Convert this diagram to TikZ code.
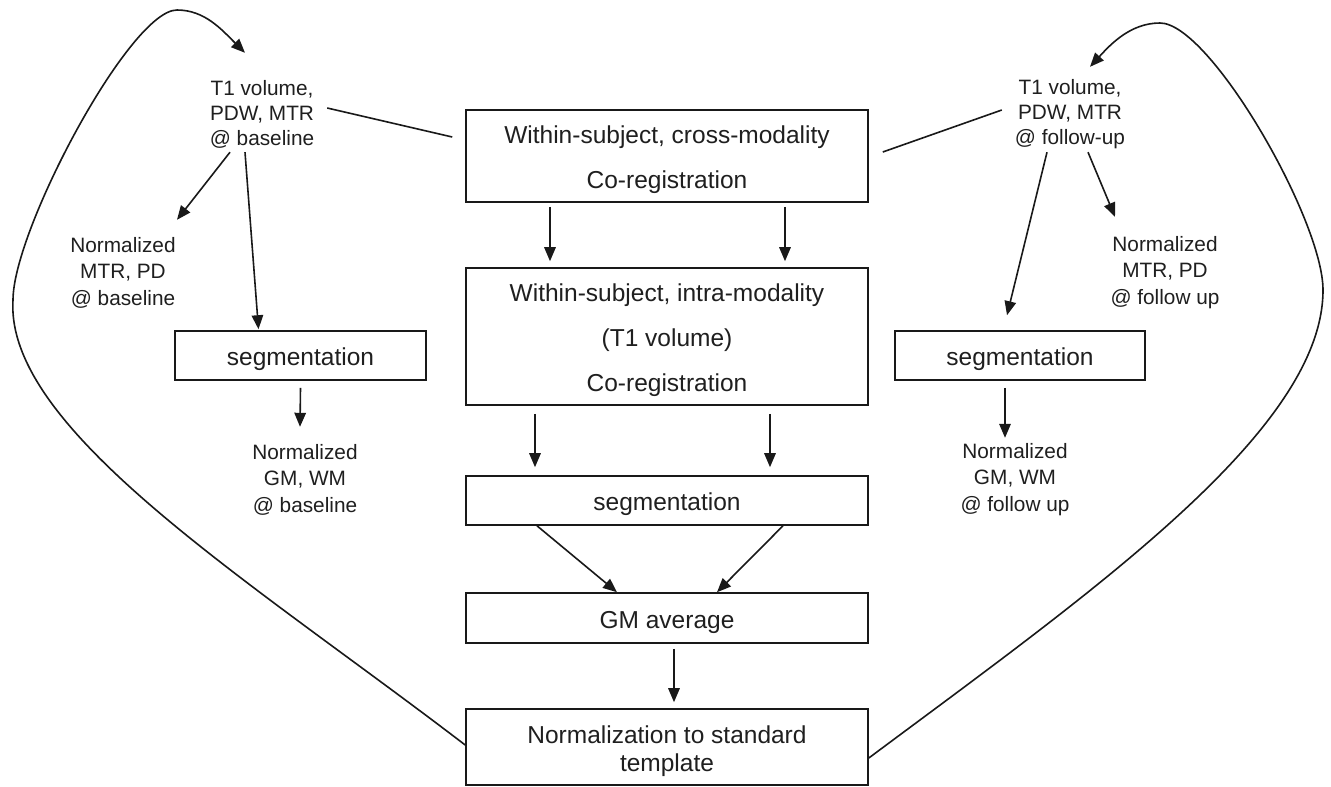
\documentclass[tikz,border=0pt]{standalone}
\usepackage{fontspec}
\setmainfont{Liberation Sans}
\usetikzlibrary{arrows.meta,calc}
\newcommand{\bstrut}{\rule{0pt}{26pt}}
\newcommand{\lstrut}{\rule{0pt}{20pt}}
\begin{document}
\begin{tikzpicture}[x=1pt,y=-1pt,
  line/.style={draw=black!90, line width=1.6pt},
  arr/.style={line, -{Triangle[length=14pt,width=11.5pt]}},
  box/.style={draw=black!90, line width=1.6pt, inner sep=0pt, align=center, text=black!88, font=\fontsize{24.5}{45}\selectfont},
  lbl/.style={inner sep=0pt, align=center, text=black!88, font=\fontsize{20.8}{26.5}\selectfont, minimum width=120pt, minimum height=78pt}
]
\useasboundingbox[fill=white] (0,0) rectangle (1331,787);

% central boxes
\node[box, minimum width=402pt, minimum height=92pt] (b1) at (667,156) {\bstrut Within-subject, cross-modality\\Co-registration};
\node[box, minimum width=402pt, minimum height=137pt] (b2) at (667,336.5) {\bstrut Within-subject, intra-modality\\(T1 volume)\\Co-registration};
\node[box, minimum width=402pt, minimum height=49pt] (b3) at (667,500.5) {\bstrut segmentation};
\node[box, minimum width=402pt, minimum height=50pt] (b4) at (667,618) {\bstrut GM average};
\node[box, minimum width=402pt, minimum height=76pt, font=\fontsize{24.5}{28}\selectfont] (b5) at (667,747) {\bstrut Normalization to standard\\template};

% side boxes
\node[box, minimum width=251pt, minimum height=49pt] (sl) at (300.5,355.5) {\bstrut segmentation};
\node[box, minimum width=250pt, minimum height=49pt] (sr) at (1020,355.5) {\bstrut segmentation};

% text labels
\node[lbl, font=\fontsize{20.8}{25}\selectfont] (tl) at (262,112) {\lstrut T1 volume,\\PDW, MTR\\@ baseline};
\node[lbl, font=\fontsize{20.8}{25}\selectfont] (tr) at (1070,112) {\lstrut T1 volume,\\PDW, MTR\\@ follow-up};
\node[lbl, minimum height=80pt] (nml) at (123,270) {\lstrut Normalized\\MTR, PD\\@ baseline};
\node[lbl, minimum height=80pt] (nmr) at (1165,270) {\lstrut Normalized\\MTR, PD\\@ follow up};
\node[lbl, minimum height=80pt] (ngl) at (305,477) {\lstrut Normalized\\GM, WM\\@ baseline};
\node[lbl, minimum height=80pt] (ngr) at (1015,477) {\lstrut Normalized\\GM, WM\\@ follow up};

% lines to cross-modality box
\draw[line] ($(tl.east)+(5,-4)$) -- ($(b1.west)+(-13,-19)$);
\draw[line] ($(b1.east)+(14,-4)$) -- ($(tr.west)+(-8,-2)$);

% left branch
\draw[arr] ($(tl.south)+(-32,1)$) -- ($(nml.north)+(54,-10)$);
\draw[arr] ($(tl.south)+(-17,1)$) -- ($(sl.north)+(-42,-1)$);
\draw[arr] ($(sl.south)+(0,7)$) -- ($(ngl.north)+(-5,-10)$);

% right branch
\draw[arr] ($(tr.south)+(18,1)$) -- ($(nmr.north)+(-50,-13)$);
\draw[arr] ($(tr.south)+(-23,1)$) -- ($(sr.north)+(-13,-15)$);
\draw[arr] ($(sr.south)+(-15,7)$) -- ($(ngr.north)+(-10,1)$);

% central arrows
\draw[arr] ($(b1.south)+(-117,4)$) -- ($(b2.north)+(-117,-6)$);
\draw[arr] ($(b1.south)+(118,4)$) -- ($(b2.north)+(118,-6)$);
\draw[arr] ($(b2.south)+(-132,8)$) -- ($(b3.north)+(-132,-8)$);
\draw[arr] ($(b2.south)+(103,8)$) -- ($(b3.north)+(103,-8)$);
\draw[arr] ($(b3.south)+(-130,0)$) -- ($(b4.north)+(-50,0)$);
\draw[arr] ($(b3.south)+(116,0)$) -- ($(b4.north)+(50,0)$);
\draw[arr] ($(b4.south)+(7,5)$) -- ($(b5.north)+(7,-6)$);

% feedback loops
\draw[arr] ($(b5.west)+(0,-2)$) .. controls (251,581) and (5,430) .. (13,300)
  .. controls (13,230) and (130,10) .. (177,10)
  .. controls (205,10) and (222,30) .. ($(tl.north)+(-17,-20)$);
\draw[arr] ($(b5.east)+(0,11)$) .. controls (1093,591) and (1323,430) .. (1323,290)
  .. controls (1323,220) and (1210,23) .. (1160,23)
  .. controls (1130,23) and (1110,45) .. ($(tr.north)+(20,-6)$);
\end{tikzpicture}
\end{document}
